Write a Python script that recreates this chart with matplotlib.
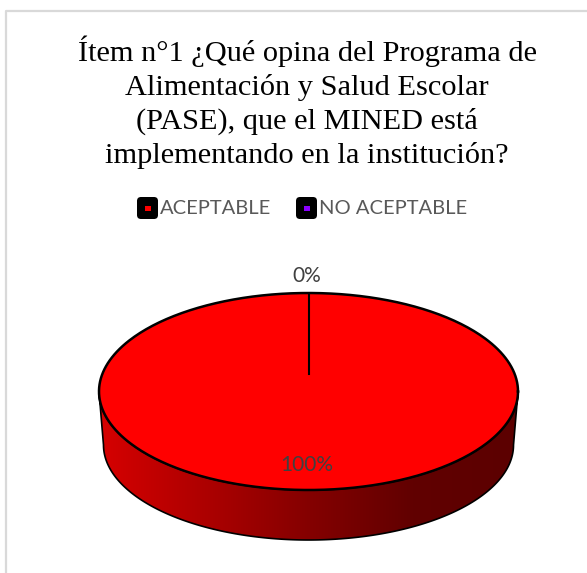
import numpy as np
import matplotlib
matplotlib.use('Agg')
import matplotlib.pyplot as plt
from matplotlib.patches import FancyBboxPatch, PathPatch, Rectangle
from matplotlib.path import Path

title = 'Ítem n°1 ¿Qué opina del Programa de\nAlimentación y Salud Escolar\n(PASE), que el MINED está\nimplementando en la institución?'
categories = ['ACEPTABLE', 'NO ACEPTABLE']
values = [100, 0]
labels = ['100%', '0%']
colors = ['#ff0000', '#8b00ff']

W, H = 587, 573
fig = plt.figure(figsize=(W / 100, H / 100), dpi=100)
bg = fig.add_axes([0, 0, 1, 1])
bg.set_xlim(0, W)
bg.set_ylim(H, 0)
bg.axis('off')

# chart frame, the right and bottom sides are cropped off
bg.plot([6, 6, W + 5], [H + 5, 11, 11], color='#d9d9d9', lw=1.6, clip_on=False)

bg.text(307, 102, title, family='Liberation Serif', fontsize=21.9, color='black',
        ha='center', va='center', linespacing=1.33)

# legend
legend_x = [137, 296]
for x, cat, col in zip(legend_x, categories, colors):
    bg.add_patch(FancyBboxPatch((x + 2, 199), 17, 18, boxstyle='round,pad=2,rounding_size=4',
                                fc='black', ec='none'))
    bg.add_patch(Rectangle((x + 8, 205.5), 5.5, 5.5, fc=col, ec='none'))
    bg.text(x + 23, 209, cat, family='Lato', fontsize=14.5, color='#595959', ha='left', va='center')

# pie, top face 99-518 wide, 293-490 tall, bottom edge a bit narrower
cx, cy, rx, ry = 308.5, 391.5, 209.5, 98.5
low_cy, low_rx, low_ry = 445, 205, 95

t = np.linspace(0, np.pi, 300)
top_edge = np.c_[cx + rx * np.cos(t), cy + ry * np.sin(t)]
low_edge = np.c_[cx + low_rx * np.cos(t), low_cy + low_ry * np.sin(t)]
verts = np.concatenate([low_edge, top_edge[::-1], low_edge[:1]])
side = PathPatch(Path(verts, closed=True), fc='none', ec='black', lw=1.2, zorder=3)
bg.add_patch(side)
grad_pos = [0, 0.5, 0.75, 1]
grad_red = [0.84, 0.52, 0.38, 0.36]
row = np.interp(np.linspace(0, 1, 256), grad_pos, grad_red)
img = np.zeros((1, 256, 3))
img[0, :, 0] = row
im = bg.imshow(img, extent=[cx - rx, cx + rx, low_cy + low_ry, cy], aspect='auto', zorder=2)
im.set_clip_path(side)
bg.set_xlim(0, W)
bg.set_ylim(H, 0)

ax = fig.add_axes([(cx - rx) / W, 1 - (cy + ry) / H, 2 * rx / W, 2 * ry / H], zorder=2)
ax.pie(values, colors=colors, startangle=90, counterclock=False,
       wedgeprops={'edgecolor': 'none'})
ax.set_aspect('auto')
ax.set_xlim(-1, 1)
ax.set_ylim(-1, 1)
ax.patch.set_alpha(0)
theta = np.linspace(0, 2 * np.pi, 400)
ax.plot(np.cos(theta), np.sin(theta), color='black', lw=1.8, clip_on=False)
ax.plot([0, 0], [1, 0.175], color='black', lw=1.5)

top = fig.add_axes([0, 0, 1, 1], zorder=3)
top.set_xlim(0, W)
top.set_ylim(H, 0)
top.axis('off')
top.text(306.5, 275.5, labels[1], family='Lato', fontsize=15, color='#404040', ha='center', va='center')
top.text(306.5, 465, labels[0], family='Lato', fontsize=15, color='#404040', ha='center', va='center')

fig.savefig('out.png', dpi=100)
